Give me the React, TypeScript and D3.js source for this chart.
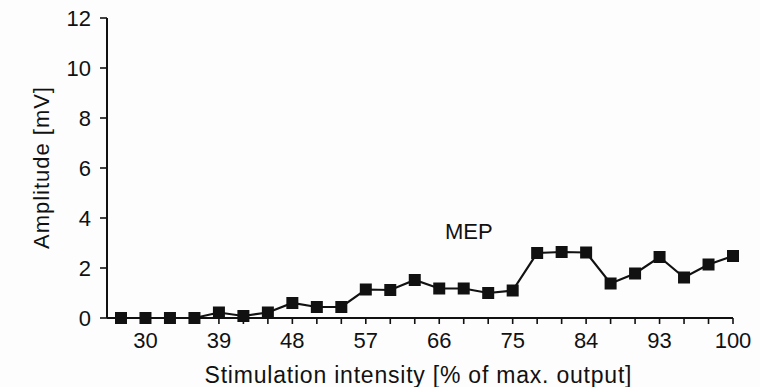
import React, { useEffect, useRef } from 'react';
import * as d3 from 'd3';

// stimulation intensity categories (% of max. output)
const intensities = ['27', '30', '33', '36', '39', '42', '45', '48', '51', '54', '57', '60', '63',
  '66', '69', '72', '75', '78', '81', '84', '87', '90', '93', '95', '98', '100'];
// MEP amplitude in mV
const amplitudes = [0, 0, 0, 0, 0.22, 0.08, 0.22, 0.6, 0.44, 0.44, 1.14, 1.12, 1.52,
  1.18, 1.18, 1.0, 1.1, 2.6, 2.64, 2.62, 1.38, 1.78, 2.44, 1.62, 2.14, 2.48];
const xLabels = ['30', '39', '48', '57', '66', '75', '84', '93', '100'];
const yTicks = [0, 2, 4, 6, 8, 10, 12];

export default function App() {
  const ref = useRef<SVGSVGElement>(null);

  useEffect(() => {
    const svg = d3.select(ref.current);
    svg.selectAll('*').remove();

    const axisLeft = 107;
    const plotRight = 733;
    const top = 18;
    const bottom = 318;
    const font = 'Arial, "Liberation Sans", Helvetica, sans-serif';
    const ink = '#111';

    const x = d3.scalePoint<string>().domain(intensities).range([121, plotRight]);
    const y = d3.scaleLinear().domain([0, 12]).range([bottom, top]);

    svg.append('rect').attr('width', 760).attr('height', 387).attr('fill', '#fdfdfd');

    // y axis
    const yAxis = svg.append('g');
    yAxis.append('line')
      .attr('x1', axisLeft).attr('x2', axisLeft)
      .attr('y1', y(12)).attr('y2', y(0))
      .attr('stroke', ink).attr('stroke-width', 2);
    yTicks.forEach((t) => {
      yAxis.append('line')
        .attr('x1', axisLeft - 7).attr('x2', axisLeft)
        .attr('y1', y(t)).attr('y2', y(t))
        .attr('stroke', ink).attr('stroke-width', 1.6);
      yAxis.append('text')
        .attr('x', axisLeft - 16).attr('y', y(t))
        .attr('dy', '0.35em')
        .attr('text-anchor', 'end')
        .attr('font-family', font).attr('font-size', 22)
        .attr('fill', ink)
        .text(t);
    });

    // x axis
    const xAxis = svg.append('g');
    xAxis.append('line')
      .attr('x1', axisLeft).attr('x2', plotRight)
      .attr('y1', bottom).attr('y2', bottom)
      .attr('stroke', ink).attr('stroke-width', 2);
    intensities.forEach((c) => {
      xAxis.append('line')
        .attr('x1', x(c)!).attr('x2', x(c)!)
        .attr('y1', bottom).attr('y2', bottom + 6)
        .attr('stroke', ink).attr('stroke-width', 1.6);
    });
    xLabels.forEach((c) => {
      xAxis.append('text')
        .attr('x', x(c)!).attr('y', 348)
        .attr('text-anchor', 'middle')
        .attr('font-family', font).attr('font-size', 22)
        .attr('fill', ink)
        .text(c);
    });

    // axis titles
    svg.append('text')
      .attr('x', (axisLeft + plotRight) / 2 - 2).attr('y', 383)
      .attr('text-anchor', 'middle')
      .attr('font-family', font).attr('font-size', 23)
      .attr('textLength', 427)
      .attr('fill', ink)
      .text('Stimulation intensity [% of max. output]');
    svg.append('text')
      .attr('transform', `translate(49, ${(top + bottom) / 2}) rotate(-90)`)
      .attr('text-anchor', 'middle')
      .attr('font-family', font).attr('font-size', 22)
      .attr('textLength', 162)
      .attr('fill', ink)
      .text('Amplitude [mV]');

    // series line + square markers
    const line = d3.line<number>()
      .x((d, i) => x(intensities[i])!)
      .y((d) => y(d));
    svg.append('path')
      .datum(amplitudes)
      .attr('fill', 'none')
      .attr('stroke', ink)
      .attr('stroke-width', 2.2)
      .attr('d', line);
    svg.append('g')
      .selectAll('rect')
      .data(amplitudes)
      .join('rect')
      .attr('x', (d, i) => x(intensities[i])! - 6)
      .attr('y', (d) => y(d) - 6)
      .attr('width', 12)
      .attr('height', 12)
      .attr('fill', ink);

    // series label
    svg.append('text')
      .attr('x', x('69')! + 5).attr('y', y(3.16))
      .attr('text-anchor', 'middle')
      .attr('font-family', font).attr('font-size', 22)
      .attr('fill', ink)
      .text('MEP');
  }, []);

  return (
    <svg ref={ref} width={760} height={387}
      style={{ position: 'absolute', left: 0, top: 0 }} />
  );
}
